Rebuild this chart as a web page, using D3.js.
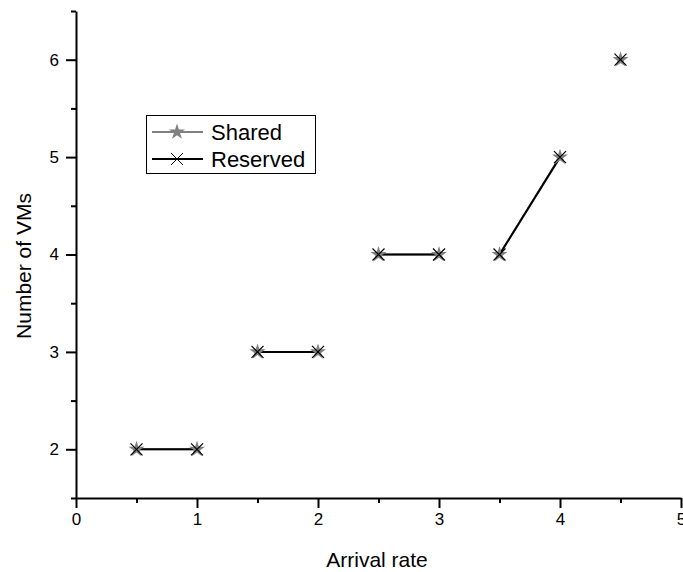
<!DOCTYPE html>
<html>
<head>
<meta charset="utf-8">
<script src="https://cdn.jsdelivr.net/npm/d3@7"></script>
<style>
  body { margin: 0; background: #fff; }
  text { font-family: "Liberation Sans", Arial, sans-serif; }
</style>
</head>
<body>
<svg></svg>
<script>
var width = 683
var height = 572

// data
var arrivalRate = [0.5, 1, 1.5, 2, 2.5, 3, 3.5, 4, 4.5]
var sharedVMs = [2, 2, 3, 3, 4, 4, 4, 5, 6]
var reservedVMs = [2, 2, 3, 3, 4, 4, 4, 5, 6]
// points with the same group id are joined by a line
var segment = [1, 1, 2, 2, 3, 3, 4, 4, 5]

var xTicks = [0, 1, 2, 3, 4, 5]
var yTicks = [2, 3, 4, 5, 6]

var xScale = d3.scaleLinear()
    .domain([0, 5])
    .range([76, 681])

var yScale = d3.scaleLinear()
    .domain([1.5, 6.5])
    .range([498, 11])

var svg = d3.select("svg")
    .attr("width", width)
    .attr("height", height)

// minor ticks
svg.append("g")
    .attr("transform", "translate(0,498)")
    .call(d3.axisBottom(xScale).tickValues(d3.range(0.5, 5, 1)).tickSize(5).tickFormat(""))
    .call(g => g.select(".domain").remove())

svg.append("g")
    .attr("transform", "translate(76,0)")
    .call(d3.axisLeft(yScale).tickValues([1.5, 2.5, 3.5, 4.5, 5.5, 6.5]).tickSize(5).tickFormat(""))
    .call(g => g.select(".domain").remove())

var xAxis = d3.axisBottom(xScale)
    .tickValues(xTicks)
    .tickFormat(d3.format("d"))
    .tickSize(10)
    .tickSizeOuter(0)
    .tickPadding(5)

var yAxis = d3.axisLeft(yScale)
    .tickValues(yTicks)
    .tickFormat(d3.format("d"))
    .tickSize(10)
    .tickSizeOuter(0)
    .tickPadding(7)

svg.append("g")
    .attr("transform", "translate(0,498)")
    .call(xAxis)
    .call(g => g.selectAll("text").attr("font-size", 17).attr("fill", "#000"))

svg.append("g")
    .attr("transform", "translate(76,0)")
    .call(yAxis)
    .call(g => g.selectAll("text").attr("font-size", 17).attr("fill", "#000"))

svg.selectAll(".domain, .tick line")
    .attr("stroke", "#000")
    .attr("stroke-width", 2)

var points = arrivalRate.map((x, i) => ({ x: x, shared: sharedVMs[i], reserved: reservedVMs[i], seg: segment[i] }))
var groups = d3.groups(points, d => d.seg)

var sharedLine = d3.line().x(d => xScale(d.x)).y(d => yScale(d.shared))
var reservedLine = d3.line().x(d => xScale(d.x)).y(d => yScale(d.reserved))

svg.append("g").selectAll("path")
    .data(groups)
    .enter()
    .append("path")
    .attr("d", d => sharedLine(d[1]))
    .attr("fill", "none")
    .attr("stroke", "#808080")
    .attr("stroke-width", 2)

svg.append("g").selectAll("path")
    .data(groups)
    .enter()
    .append("path")
    .attr("d", d => reservedLine(d[1]))
    .attr("fill", "none")
    .attr("stroke", "#000")
    .attr("stroke-width", 2)

var star = d3.symbol().type(d3.symbolStar).size(80)
var cross = "M-6,-6L6,6M-6,6L6,-6"

svg.append("g").selectAll("path")
    .data(points)
    .enter()
    .append("path")
    .attr("transform", d => `translate(${xScale(d.x)},${yScale(d.shared)})`)
    .attr("d", star)
    .attr("fill", "#808080")

svg.append("g").selectAll("path")
    .data(points)
    .enter()
    .append("path")
    .attr("transform", d => `translate(${xScale(d.x)},${yScale(d.reserved)})`)
    .attr("d", cross)
    .attr("stroke", "#000")
    .attr("stroke-width", 1.2)

// legend
var legend = svg.append("g")

legend.append("rect")
    .attr("x", 146.5)
    .attr("y", 115.5)
    .attr("width", 169)
    .attr("height", 58)
    .attr("fill", "#fff")
    .attr("stroke", "#000")
    .attr("stroke-width", 1)

legend.append("line")
    .attr("x1", 152).attr("x2", 203)
    .attr("y1", 132).attr("y2", 132)
    .attr("stroke", "#808080")
    .attr("stroke-width", 2)

legend.append("path")
    .attr("transform", "translate(177,132)")
    .attr("d", star)
    .attr("fill", "#808080")

legend.append("line")
    .attr("x1", 152).attr("x2", 203)
    .attr("y1", 159).attr("y2", 159)
    .attr("stroke", "#000")
    .attr("stroke-width", 2)

legend.append("path")
    .attr("transform", "translate(177,159)")
    .attr("d", cross)
    .attr("stroke", "#000")
    .attr("stroke-width", 1)

legend.append("text")
    .attr("x", 211)
    .attr("y", 140)
    .attr("font-size", 22)
    .text("Shared")

legend.append("text")
    .attr("x", 211)
    .attr("y", 167)
    .attr("font-size", 22)
    .text("Reserved")

svg.append("text")
    .attr("x", 377)
    .attr("y", 567)
    .attr("font-size", 21)
    .style("text-anchor", "middle")
    .text("Arrival rate")

svg.append("text")
    .attr("transform", "rotate(-90)")
    .attr("x", -266)
    .attr("y", 31)
    .attr("font-size", 21)
    .style("text-anchor", "middle")
    .text("Number of VMs")
</script>
</body>
</html>
